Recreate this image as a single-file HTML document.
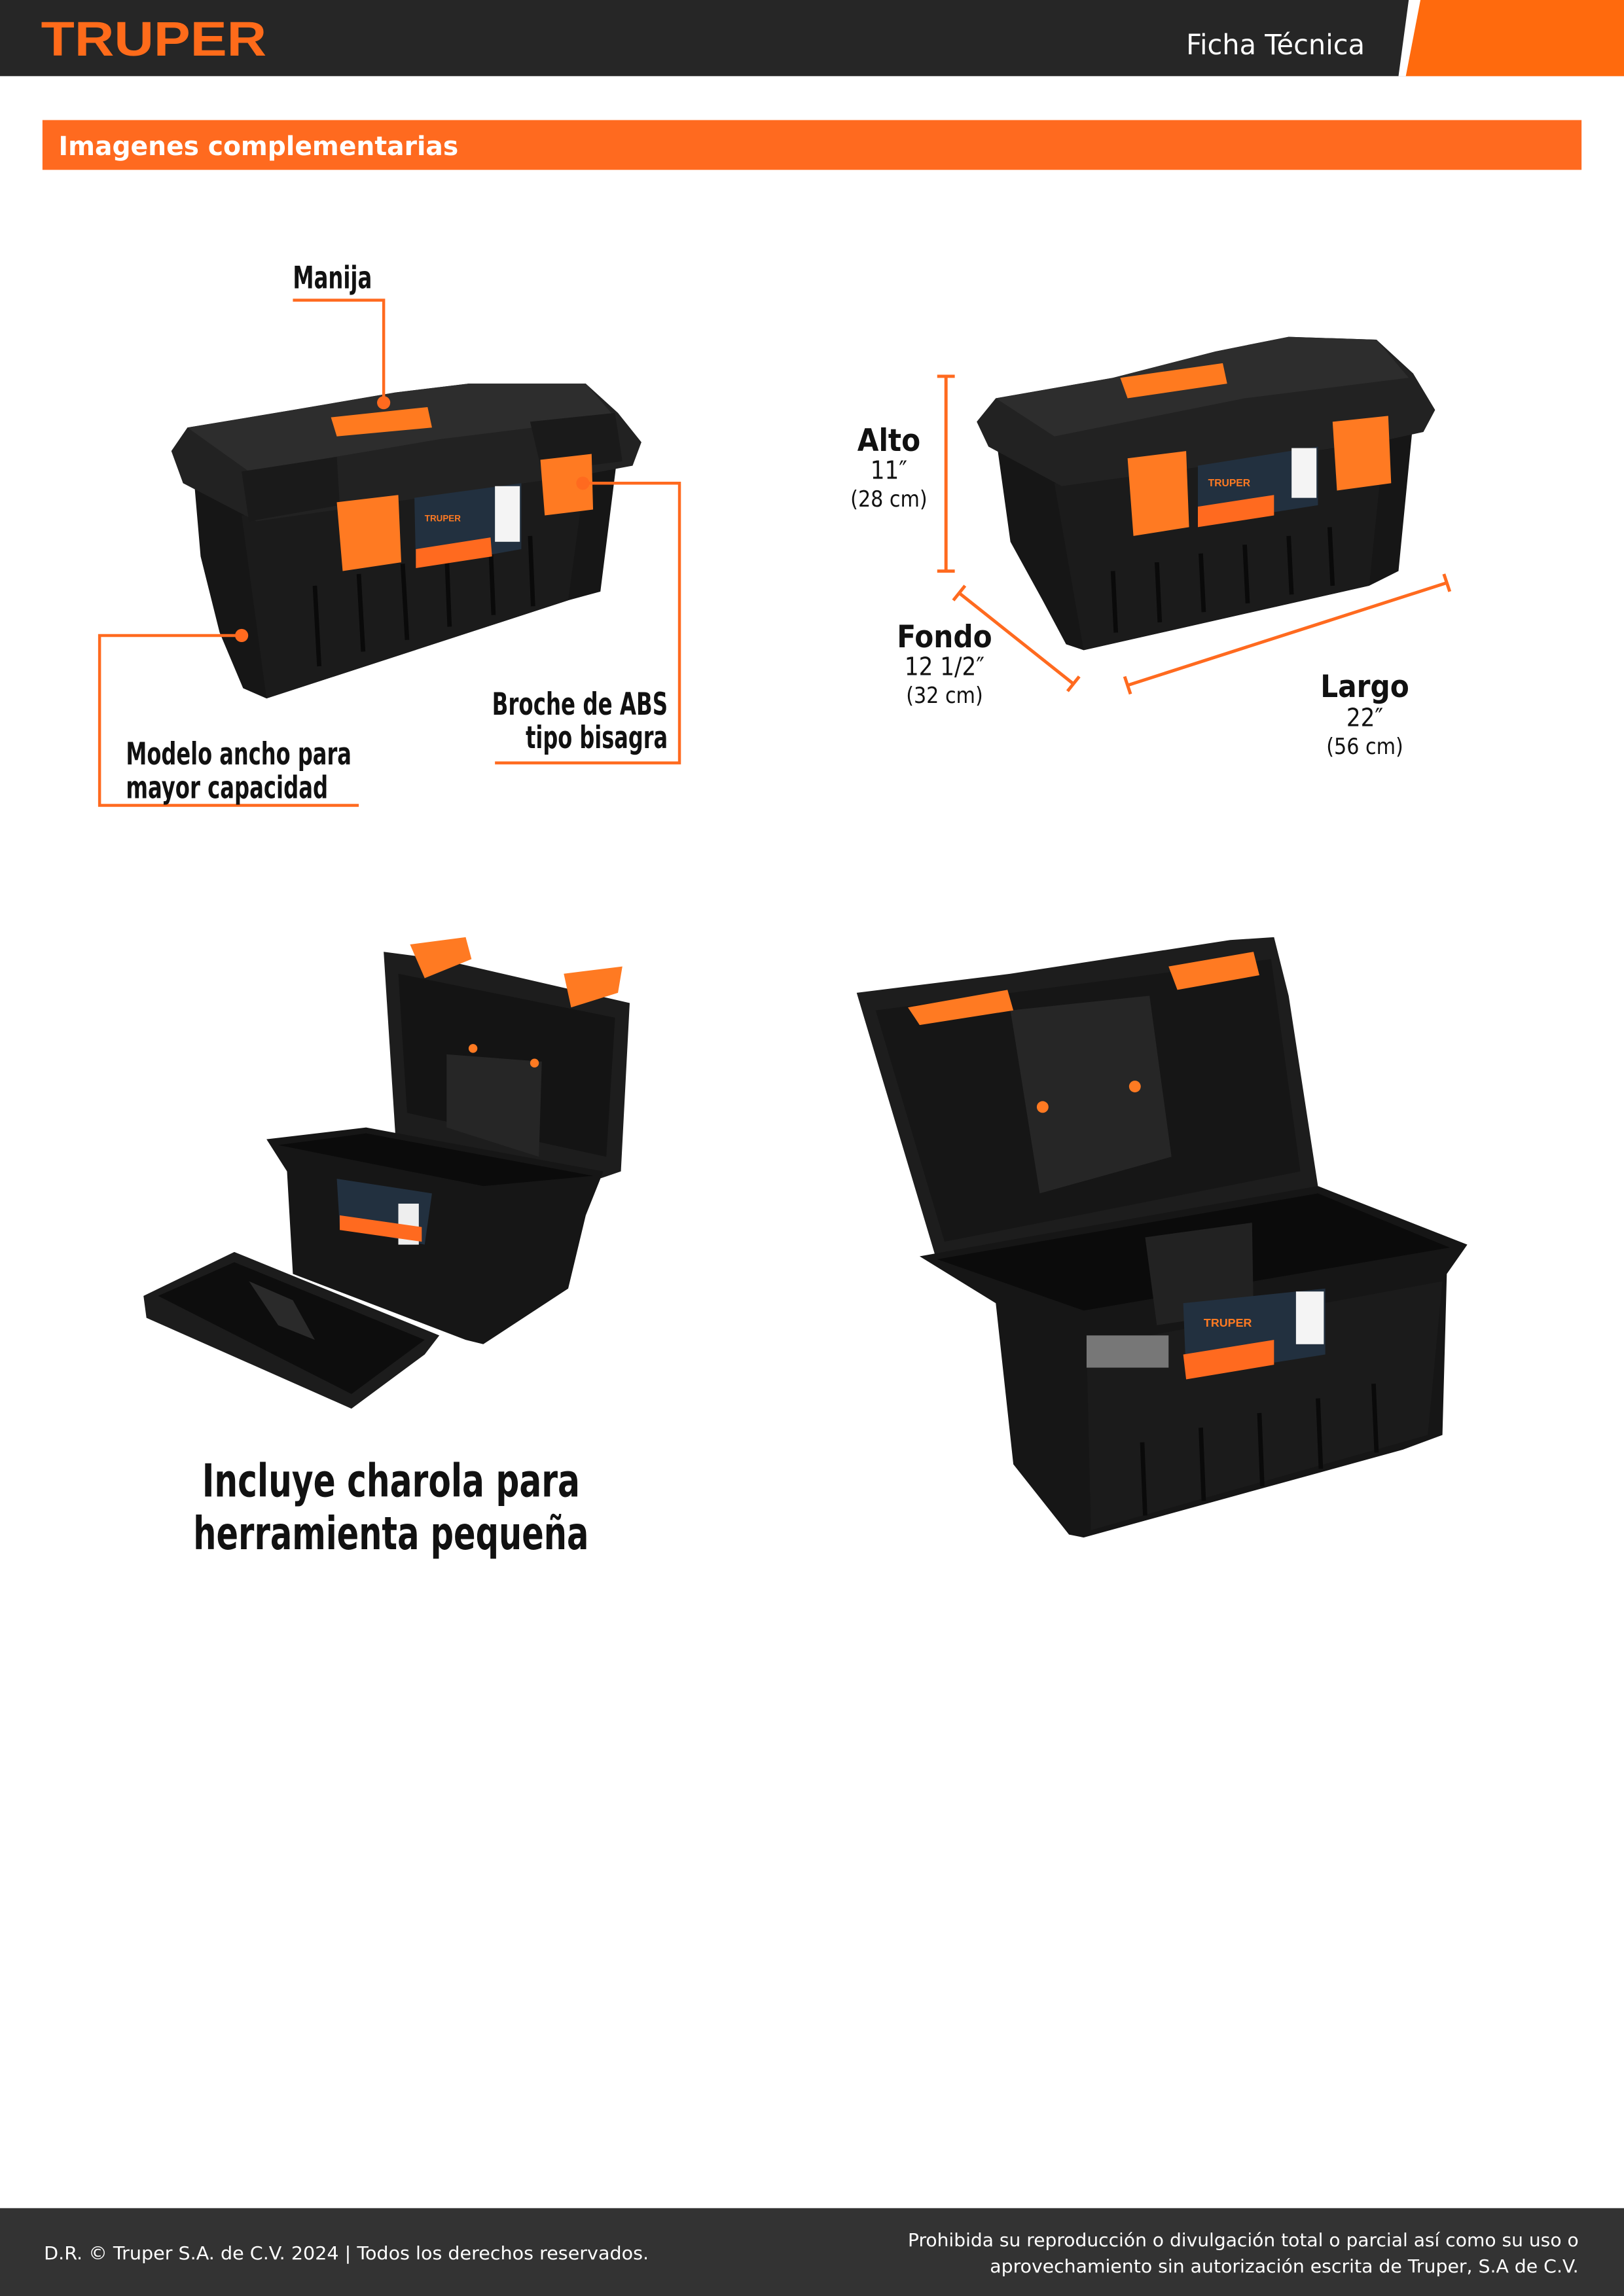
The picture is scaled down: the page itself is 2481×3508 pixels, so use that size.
<!DOCTYPE html>
<html><head><meta charset="utf-8">
<style>
html,body{margin:0;padding:0;background:#fff;}
svg{display:block;}
.lbl{font-family:"Liberation Sans Narrow","DejaVu Sans Condensed","Liberation Sans",sans-serif;font-weight:bold;fill:#111;}
.dim{font-family:"Liberation Sans Narrow","DejaVu Sans Condensed","Liberation Sans",sans-serif;fill:#111;}
.ft{font-family:"DejaVu Sans","Liberation Sans",sans-serif;fill:#fff;}
</style></head>
<body>
<svg width="2481" height="3508" viewBox="0 0 1109 1568" preserveAspectRatio="none" xmlns="http://www.w3.org/2000/svg">
<!-- header -->
<rect x="0" y="0" width="1109" height="52" fill="#262626"/>
<polygon points="962,0 1109,0 1109,52 955,52" fill="#ffffff"/>
<polygon points="970,0 1109,0 1109,52 960,52" fill="#ff6a0d"/>
<text x="28" y="38" font-family="Liberation Sans,sans-serif" font-weight="bold" font-size="33" fill="#ff6b1a" textLength="154" lengthAdjust="spacingAndGlyphs">TRUPER</text>
<text x="810" y="37" font-family="DejaVu Sans,sans-serif" font-size="19" fill="#fff" textLength="122" lengthAdjust="spacingAndGlyphs">Ficha Técnica</text>
<rect x="29" y="82" width="1051" height="34" fill="#ff6a1f"/>
<text x="40" y="106" font-family="DejaVu Sans,sans-serif" font-weight="bold" font-size="18" fill="#fff" textLength="273" lengthAdjust="spacingAndGlyphs">Imagenes complementarias</text>

<!-- ===== Box 1 (closed) ===== -->
<g>
<polygon points="132,322 422,308 410,404 388,410 182,477 166,470 150,432 137,380" fill="#161616"/>
<polygon points="165,352 400,322 388,410 182,477" fill="#1b1b1b"/>
<g stroke="#0a0a0a" stroke-width="3">
<line x1="215" y1="400" x2="218" y2="455"/><line x1="245" y1="392" x2="248" y2="445"/><line x1="275" y1="385" x2="278" y2="437"/>
<line x1="305" y1="378" x2="307" y2="428"/><line x1="335" y1="372" x2="337" y2="420"/><line x1="362" y1="366" x2="364" y2="414"/>
</g>
<polygon points="117,308 128,292 200,280 270,268 320,262 400,262 422,282 438,302 432,318 400,324 175,356 125,330" fill="#222"/>
<polygon points="128,292 200,280 270,268 320,262 400,262 420,285 300,300 170,322" fill="#2d2d2d"/>
<polygon points="165,322 230,312 232,345 170,356" fill="#1a1a1a"/>
<polygon points="362,288 420,282 425,315 370,322" fill="#1a1a1a"/>
<polygon points="226,285 292,278 295,292 230,298" fill="#ff7a1f"/>
<polygon points="230,343 272,338 274,384 234,390" fill="#ff7a22"/>
<polygon points="369,314 404,310 405,348 372,352" fill="#ff7a22"/>
<polygon points="283,340 356,330 356,375 284,388" fill="#22303f"/>
<polygon points="284,375 335,367 336,380 284,388" fill="#ff6a1f"/>
<rect x="338" y="332" width="17" height="38" fill="#f4f4f4"/>
<text x="290" y="356" font-family="Liberation Sans,sans-serif" font-weight="bold" font-size="6" fill="#ff7a22">TRUPER</text>
</g>
<!-- Box1 callouts -->
<g stroke="#ff6a1f" stroke-width="2" fill="none">
<polyline points="200,205 262,205 262,275"/>
<polyline points="398,330 464,330 464,521 338,521"/>
<polyline points="165,434 68,434 68,550 245,550"/>
</g>
<g fill="#ff6a1f"><circle cx="262" cy="275" r="4.5"/><circle cx="398" cy="330" r="4.5"/><circle cx="165" cy="434" r="4.5"/></g>
<text class="lbl" x="200" y="197" font-size="21" textLength="54" lengthAdjust="spacingAndGlyphs">Manija</text>
<text class="lbl" x="456" y="488" font-size="21" text-anchor="end" textLength="120" lengthAdjust="spacingAndGlyphs">Broche de ABS</text>
<text class="lbl" x="456" y="511" font-size="21" text-anchor="end" textLength="97" lengthAdjust="spacingAndGlyphs">tipo bisagra</text>
<text class="lbl" x="86" y="522" font-size="21" textLength="154" lengthAdjust="spacingAndGlyphs">Modelo ancho para</text>
<text class="lbl" x="86" y="545" font-size="21" textLength="138" lengthAdjust="spacingAndGlyphs">mayor capacidad</text>

<!-- ===== Box 2 (dimensions) ===== -->
<g>
<polygon points="680,298 965,288 955,390 935,400 740,444 728,440 712,410 690,370" fill="#161616"/>
<polygon points="720,330 945,302 935,400 740,444" fill="#1b1b1b"/>
<g stroke="#0a0a0a" stroke-width="3">
<line x1="760" y1="390" x2="762" y2="432"/><line x1="790" y1="384" x2="792" y2="425"/><line x1="820" y1="378" x2="822" y2="418"/>
<line x1="850" y1="372" x2="852" y2="412"/><line x1="880" y1="366" x2="882" y2="406"/><line x1="908" y1="360" x2="910" y2="400"/>
</g>
<polygon points="667,288 680,272 760,258 830,240 880,230 940,232 965,255 980,280 972,295 940,302 725,332 675,305" fill="#222"/>
<polygon points="680,272 760,258 830,240 880,230 940,232 962,258 850,272 720,298" fill="#2d2d2d"/>
<polygon points="765,258 835,248 838,262 770,272" fill="#ff7a1f"/>
<polygon points="770,313 810,308 812,360 774,366" fill="#ff7a22"/>
<polygon points="910,288 948,284 950,330 913,335" fill="#ff7a22"/>
<polygon points="818,318 900,305 900,345 818,358" fill="#22303f"/>
<polygon points="818,346 870,338 870,352 818,360" fill="#ff6a1f"/>
<rect x="882" y="306" width="17" height="34" fill="#f4f4f4"/>
<text x="825" y="332" font-family="Liberation Sans,sans-serif" font-weight="bold" font-size="7" fill="#ff7a22">TRUPER</text>
</g>
<g stroke="#ff6a1f" stroke-width="2.2" fill="none">
<line x1="646" y1="257" x2="646" y2="390"/><line x1="640" y1="257" x2="652" y2="257"/><line x1="640" y1="390" x2="652" y2="390"/>
<line x1="655" y1="405" x2="733" y2="467"/><line x1="651" y1="410" x2="659" y2="400"/><line x1="729" y1="472" x2="737" y2="462"/>
<line x1="770" y1="468" x2="988" y2="398"/><line x1="768" y1="462" x2="772" y2="474"/><line x1="986" y1="392" x2="990" y2="404"/>
</g>
<text class="lbl" x="607" y="308" font-size="21" text-anchor="middle">Alto</text>
<text class="dim" x="607" y="327" font-size="17" text-anchor="middle">11″</text>
<text class="dim" x="607" y="346" font-size="15" text-anchor="middle">(28 cm)</text>
<text class="lbl" x="645" y="442" font-size="21" text-anchor="middle">Fondo</text>
<text class="dim" x="645" y="461" font-size="17" text-anchor="middle">12 1/2″</text>
<text class="dim" x="645" y="480" font-size="15" text-anchor="middle">(32 cm)</text>
<text class="lbl" x="932" y="476" font-size="21" text-anchor="middle">Largo</text>
<text class="dim" x="932" y="496" font-size="17" text-anchor="middle">22″</text>
<text class="dim" x="932" y="515" font-size="15" text-anchor="middle">(56 cm)</text>

<!-- ===== Box 3 (open + tray) ===== -->
<g>
<polygon points="262,650 300,655 430,685 424,800 380,815 270,775" fill="#1d1d1d"/>
<polygon points="272,665 420,695 414,790 278,760" fill="#141414"/>
<polygon points="305,720 370,725 368,790 305,770" fill="#262626"/>
<polygon points="280,645 318,640 322,655 290,668" fill="#ff7a22"/>
<polygon points="385,665 425,660 422,678 390,688" fill="#ff7a22"/>
<circle cx="323" cy="716" r="3" fill="#ff7a22"/><circle cx="365" cy="726" r="3" fill="#ff7a22"/>
<polygon points="182,778 250,770 412,800 400,830 388,880 330,918 318,915 200,870 196,800" fill="#161616"/>
<polygon points="190,782 250,774 405,803 330,810" fill="#0b0b0b"/>
<polygon points="230,805 295,815 290,850 232,838" fill="#22303f"/>
<rect x="272" y="822" width="14" height="28" fill="#eee"/>
<polygon points="232,830 288,838 288,848 232,840" fill="#ff6a1f"/>
<polygon points="98,885 160,855 300,912 290,925 240,962 100,900" fill="#1c1c1c"/>
<polygon points="108,885 160,862 290,915 240,952" fill="#0d0d0d"/>
<polygon points="170,875 200,888 215,915 190,905" fill="#2a2a2a"/>
</g>
<text class="lbl" x="267" y="1022" font-size="31" text-anchor="middle" textLength="258" lengthAdjust="spacingAndGlyphs">Incluye charola para</text>
<text class="lbl" x="267" y="1058" font-size="31" text-anchor="middle" textLength="270" lengthAdjust="spacingAndGlyphs">herramienta pequeña</text>

<!-- ===== Box 4 (open) ===== -->
<g>
<polygon points="585,678 690,665 840,642 870,640 880,680 900,810 880,820 640,862" fill="#1d1d1d"/>
<polygon points="598,690 868,655 888,800 645,848" fill="#161616"/>
<polygon points="690,690 785,680 800,790 710,815" fill="#262626"/>
<polygon points="620,688 688,676 692,690 628,700" fill="#ff7a22"/>
<polygon points="798,660 856,650 860,666 804,676" fill="#ff7a22"/>
<circle cx="712" cy="756" r="4" fill="#ff7a22"/><circle cx="775" cy="742" r="4" fill="#ff7a22"/>
<polygon points="628,858 700,845 900,810 1002,850 988,870 985,980 958,990 740,1050 730,1048 692,1000 680,890" fill="#161616"/>
<polygon points="640,860 900,815 990,852 740,895" fill="#0b0b0b"/>
<polygon points="782,845 855,835 856,895 790,905" fill="#222"/>
<polygon points="742,920 985,875 975,980 745,1045" fill="#1b1b1b"/>
<polygon points="808,890 905,880 905,925 810,940" fill="#22303f"/>
<polygon points="808,925 870,915 870,932 810,942" fill="#ff6a1f"/>
<rect x="885" y="882" width="19" height="36" fill="#f4f4f4"/>
<rect x="742" y="912" width="56" height="22" fill="#777"/>
<text x="822" y="906" font-family="Liberation Sans,sans-serif" font-weight="bold" font-size="8" fill="#ff7a22">TRUPER</text>
<g stroke="#0a0a0a" stroke-width="3">
<line x1="780" y1="985" x2="782" y2="1035"/><line x1="820" y1="975" x2="822" y2="1025"/><line x1="860" y1="965" x2="862" y2="1015"/>
<line x1="900" y1="955" x2="902" y2="1003"/><line x1="938" y1="945" x2="940" y2="992"/>
</g>
</g>

<!-- footer -->
<rect x="0" y="1508" width="1109" height="60" fill="#333333"/>
<text class="ft" x="30" y="1543" font-size="12.5" textLength="413" lengthAdjust="spacingAndGlyphs">D.R. © Truper S.A. de C.V. 2024 | Todos los derechos reservados.</text>
<text class="ft" x="1078" y="1534" font-size="12.5" text-anchor="end" textLength="458" lengthAdjust="spacingAndGlyphs">Prohibida su reproducción o divulgación total o parcial así como su uso o</text>
<text class="ft" x="1078" y="1552" font-size="12.5" text-anchor="end" textLength="402" lengthAdjust="spacingAndGlyphs">aprovechamiento sin autorización escrita de Truper, S.A de C.V.</text>
</svg>
</body></html>
